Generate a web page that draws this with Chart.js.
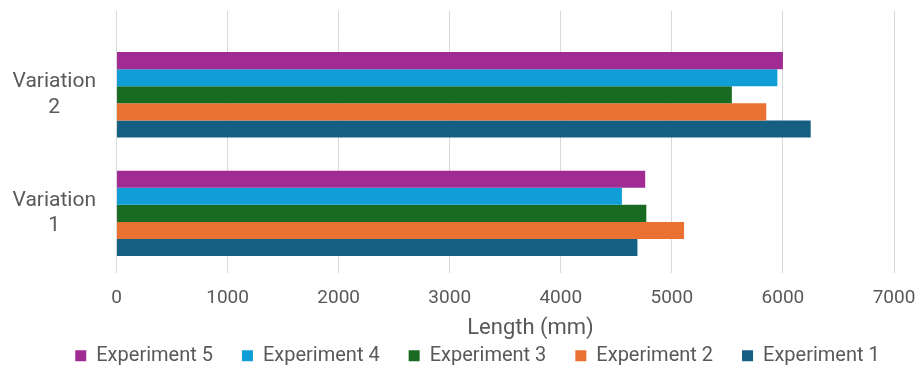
<!DOCTYPE html>
<html>
<head>
<meta charset="utf-8">
<script src="https://cdn.jsdelivr.net/npm/chart.js@4.4.1/dist/chart.umd.min.js"></script>
<style>
  html, body { margin: 0; padding: 0; background: #ffffff; }
  #wrap { width: 918px; height: 369px; position: relative; }
</style>
</head>
<body>
<div id="wrap"><canvas id="c"></canvas></div>
<script>
const categories = [['Variation', '2'], ['Variation', '1']];
const seriesNames = ['Experiment 5', 'Experiment 4', 'Experiment 3', 'Experiment 2', 'Experiment 1'];
const experiment5 = [6000, 4760];
const experiment4 = [5950, 4550];
const experiment3 = [5540, 4770];
const experiment2 = [5850, 5110];
const experiment1 = [6250, 4690];
const xTicks = [0, 1000, 2000, 3000, 4000, 5000, 6000, 7000];
const axisTitle = 'Length (mm)';

const seriesValues = [experiment5, experiment4, experiment3, experiment2, experiment1];
const colors = ['#A02B93', '#0F9ED5', '#196B24', '#E97132', '#156082'];
const textColor = '#595959';
const gridColor = '#D9D9D9';
const FONT = 'Roboto';

const gridExtend = {
  id: 'gridExtend',
  afterLayout(chart) {
    // Excel centres the legend and the axis title to the right of the canvas centre
    const shift = (box, d) => { if (box) { box.left += d; box.right += d; } };
    shift(chart.legend, 34.5);
    shift(chart.titleBlock, 87.5);
  },
  beforeDatasetsDraw(chart) {
    const xs = chart.scales.x;
    const ctx = chart.ctx;
    ctx.save();
    ctx.strokeStyle = gridColor;
    ctx.lineWidth = 1;
    xs.ticks.forEach(t => {
      const px = Math.round(xs.getPixelForValue(t.value) - 0.5) + 0.5;
      ctx.beginPath();
      ctx.moveTo(px, 11);
      ctx.lineTo(px, chart.chartArea.top);
      ctx.stroke();
    });
    ctx.restore();
  }
};

new Chart(document.getElementById('c'), {
  type: 'bar',
  data: {
    labels: categories,
    datasets: seriesNames.map((n, i) => ({
      label: n,
      data: seriesValues[i],
      backgroundColor: colors[i],
      borderWidth: 0,
      categoryPercentage: 0.72,
      barPercentage: 1.0
    }))
  },
  options: {
    indexAxis: 'y',
    responsive: true,
    maintainAspectRatio: false,
    animation: false,
    layout: { padding: { top: 35.5, left: -8, right: 24, bottom: -13.5 } },
    plugins: {
      tooltip: { enabled: false },
      title: {
        display: true,
        position: 'bottom',
        weight: 500,
        text: axisTitle,
        color: textColor,
        font: { family: FONT, size: 22, weight: 'normal' },
        padding: { top: -8, bottom: -25.2 }
      },
      legend: {
        position: 'bottom',
        weight: 1000,
        labels: {
          color: textColor,
          font: { family: FONT, size: 20 },
          boxWidth: 11,
          boxHeight: 11,
          padding: 29
        }
      }
    },
    scales: {
      x: {
        min: 0,
        max: 7000,
        afterBuildTicks(scale) { scale.ticks = xTicks.map(v => ({ value: v })); },
        afterFit(scale) { scale.paddingLeft = 0; scale.paddingRight = 0; },
        ticks: {
          color: textColor,
          font: { family: FONT, size: 19 },
          padding: 14,
          callback: (v) => String(v)
        },
        grid: { color: gridColor, drawTicks: false },
        border: { display: false }
      },
      y: {
        afterFit(scale) { scale.paddingTop = 0; scale.paddingBottom = 0; },
        ticks: {
          color: textColor,
          font: { family: FONT, size: 21 },
          crossAlign: 'center',
          padding: 20.5
        },
        grid: { display: false, drawTicks: false },
        border: { display: false }
      }
    }
  },
  plugins: [gridExtend]
});
</script>
</body>
</html>
